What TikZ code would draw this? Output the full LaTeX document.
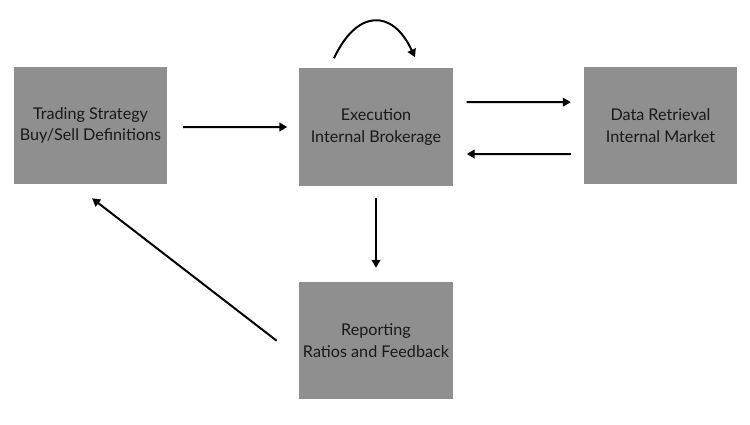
\documentclass[tikz,border=0pt]{standalone}
\usepackage{fontspec}
\setmainfont{Lato}
\definecolor{boxgray}{RGB}{143, 143, 143}
\definecolor{txtdark}{RGB}{25, 25, 25}
\usepackage{tikz}
\usetikzlibrary{arrows.meta, positioning}

\tikzset{
  stage/.style={draw=none, fill=boxgray, minimum width=4.59cm, minimum height=3.51cm,
    align=center, text=txtdark, font=\fontsize{13.8}{18.5}\selectfont},
  flow/.style={line width=1.7pt, -{Triangle[length=0.24cm, width=0.26cm]}}
}

\begin{document}
\begin{tikzpicture}[x=0.03cm, y=-0.03cm]
    \useasboundingbox (0,0) rectangle (750,425);
    % Blocos
    \node[stage] (strategy) at (90.5,125.5) {Trading Strategy\\Buy/Sell Definitions};
    \node[stage] (execution) at (376,127) {Execution\\Internal Brokerage};
    \node[stage] (market) at (660.5,125.5) {Data Retrieval\\Internal Market};
    \node[stage] (reporting) at (376,340.5) {Reporting\\Ratios and Feedback};
    % Fluxo principal
    \draw[flow, shorten <=0.48cm, shorten >=0.36cm] ([yshift=-0.05cm]strategy.east) -- (execution.west);
    \draw[flow, shorten <=0.42cm, shorten >=0.39cm] ([yshift=0.75cm]execution.east) -- ([yshift=0.7cm]market.west);
    \draw[flow, shorten <=0.39cm, shorten >=0.42cm] ([yshift=-0.86cm]market.west) -- ([yshift=-0.81cm]execution.east);
    \draw[flow, shorten <=0.36cm, shorten >=0.42cm] (execution.south) -- (reporting.north);
    % Retorno
    \draw[flow, shorten <=0.84cm, shorten >=0.69cm] ([yshift=-0.52cm]reporting.west) -- ([xshift=-0.5cm]strategy.south);
    % Laco na execucao
    \draw[flow] ([xshift=-1.26cm, yshift=0.3cm]execution.north)
      to[out=65, in=115, looseness=1.7] ([xshift=1.17cm, yshift=0.33cm]execution.north);
\end{tikzpicture}
\end{document}
